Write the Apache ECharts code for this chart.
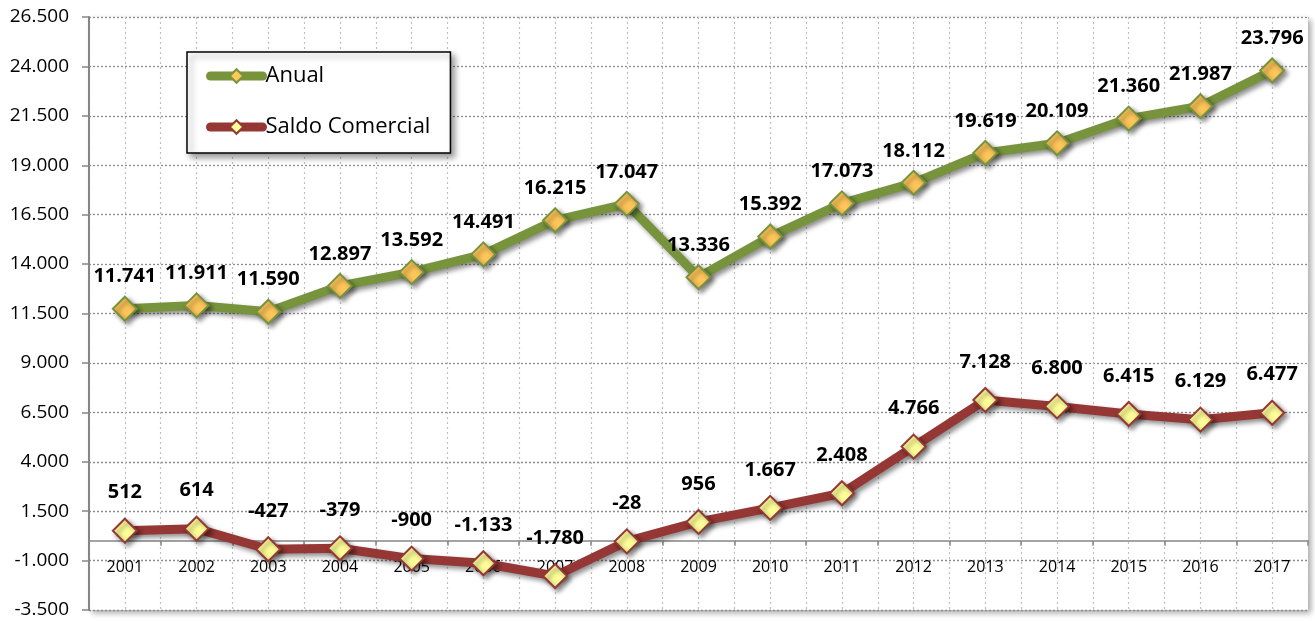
<!DOCTYPE html>
<html><head><meta charset="utf-8">
<script src="https://cdn.jsdelivr.net/npm/echarts@6/dist/echarts.min.js"></script>
<style>html,body{margin:0;padding:0;background:#fff}#c{width:1315px;height:621px}</style>
</head><body><div id="c"></div>
<script>
const categories = ['2001','2002','2003','2004','2005','2006','2007','2008','2009','2010','2011','2012','2013','2014','2015','2016','2017'];
const anual = [11741, 11911, 11590, 12897, 13592, 14491, 16215, 17047, 13336, 15392, 17073, 18112, 19619, 20109, 21360, 21987, 23796];
const saldo = [512, 614, -427, -379, -900, -1133, -1780, -28, 956, 1667, 2408, 4766, 7128, 6800, 6415, 6129, 6477];
const yMin = -3500, yMax = 26500, yStep = 2500;

function fmt(v){
  const s = v < 0 ? '-' : '';
  const a = Math.abs(Math.round(v)).toString();
  return s + a.replace(/\B(?=(\d{3})+(?!\d))/g, '.');
}
const FONT = 'Open Sans';
const chart = echarts.init(document.getElementById('c'));
const shadow = {shadowColor:'rgba(0,0,0,0.45)', shadowBlur:5, shadowOffsetX:3, shadowOffsetY:3};
const GRID = {left:89, right:7, top:17, bottom:11};
chart.setOption({
  animation:false,
  textStyle:{fontFamily:FONT},
  grid:Object.assign({outerBoundsMode:'none', containLabel:false,
        show:true, backgroundColor:'#fff', borderWidth:0,
        shadowColor:'rgba(0,0,0,0.35)', shadowBlur:6, shadowOffsetX:3, shadowOffsetY:3}, GRID),
  legend:{
    orient:'vertical', left:187, top:52,
    padding:[13,20,15,19], itemGap:29, itemWidth:52, itemHeight:17,
    backgroundColor:'#fff', borderColor:'#000', borderWidth:1.5,
    shadowColor:'rgba(0,0,0,0.4)', shadowBlur:6, shadowOffsetX:4, shadowOffsetY:4,
    lineStyle:{width:9, cap:'round'},
    textStyle:{fontFamily:FONT, fontSize:22, color:'#000', padding:[0,0,0,-2]},
    data:['Anual','Saldo Comercial']
  },
  xAxis:[{
    type:'category', data:categories, boundaryGap:true, position:'bottom', offset:0,
    axisLine:{onZero:false, lineStyle:{color:'#868686', width:1.5}},
    axisTick:{show:true, length:5, lineStyle:{color:'#868686', width:1.5}},
    axisLabel:{fontFamily:FONT, fontSize:16, color:'#000', margin:19},
    splitLine:{show:false}
  },{
    type:'value', min:0, max:categories.length*2, interval:1, show:true, position:'top',
    axisLine:{show:false, onZero:false}, axisTick:{show:false}, axisLabel:{show:false},
    splitLine:{show:true, lineStyle:{color:'#bfbfbf', type:[2,3], width:1.2}}
  }],
  yAxis:{
    type:'value', min:yMin, max:yMax, interval:yStep,
    axisLine:{show:true, lineStyle:{color:'#868686', width:2}},
    axisTick:{show:true, length:7, lineStyle:{color:'#868686', width:1.5}},
    axisLabel:{fontFamily:FONT, fontSize:19, color:'#000', margin:20, formatter:fmt},
    splitLine:{show:true, lineStyle:{color:'#8c8c8c', type:[2,2], width:1.3}}
  },
  series:[{
    name:'Anual', type:'line', data:anual, xAxisIndex:0, z:3,
    symbol:'diamond', symbolSize:24,
    lineStyle:Object.assign({color:'#77933C', width:9}, shadow),
    itemStyle:Object.assign({color:'#FFC65A', borderColor:'#77933C', borderWidth:2}, shadow),
    label:{show:true, position:'top', distance:9, formatter:p=>fmt(p.value),
           fontFamily:FONT, fontWeight:'bold', fontSize:20, color:'#000'}
  },{
    name:'Saldo Comercial', type:'line', data:saldo, xAxisIndex:0, z:3,
    symbol:'diamond', symbolSize:24,
    lineStyle:Object.assign({color:'#953735', width:9}, shadow),
    itemStyle:Object.assign({color:'#FFFF99', borderColor:'#953735', borderWidth:2}, shadow),
    label:{show:true, position:'top', distance:15, formatter:p=>fmt(p.value),
           fontFamily:FONT, fontWeight:'bold', fontSize:20, color:'#000'}
  }]
});
// place the category axis on the zero line
const zeroPx = chart.convertToPixel({yAxisIndex:0}, 0);
const bottomPx = 621 - GRID.bottom;
chart.setOption({xAxis:[{offset: -(bottomPx - zeroPx)}, {}]});
</script></body></html>
